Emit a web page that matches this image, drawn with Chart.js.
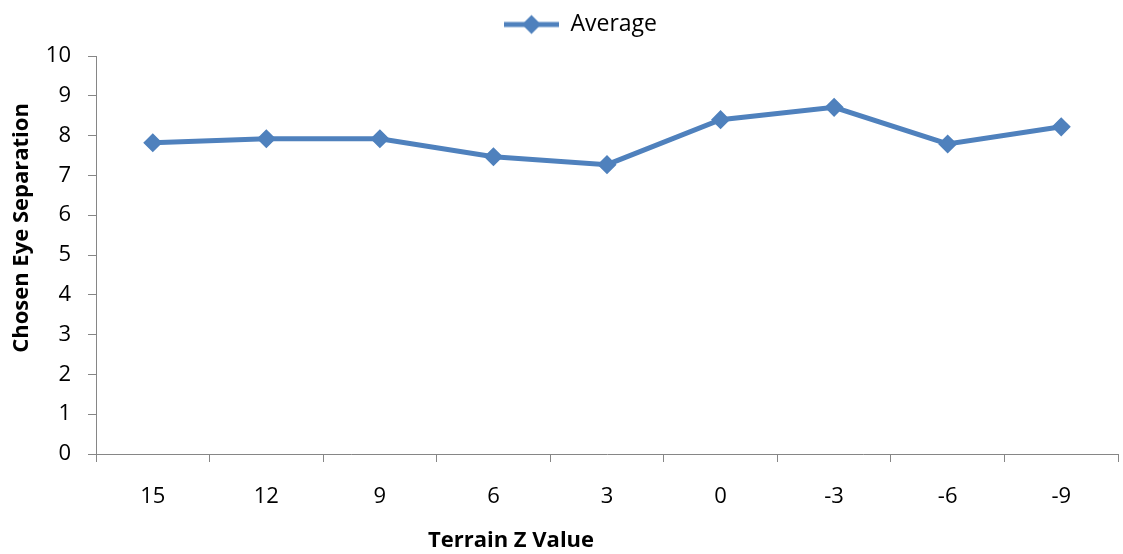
<!DOCTYPE html>
<html>
<head>
<meta charset="utf-8">
<script src="https://cdn.jsdelivr.net/npm/chart.js@4.4.1/dist/chart.umd.min.js"></script>
<style>
  html, body { margin: 0; padding: 0; background: #ffffff; }
  #wrap { width: 1123px; height: 554px; }
</style>
</head>
<body>
<div id="wrap"><canvas id="chart" width="1123" height="554"></canvas></div>
<script>
// Terrain Z value categories (left to right)
const categories = ['15', '12', '9', '6', '3', '0', '-3', '-6', '-9'];
// Average chosen eye separation for each terrain Z value
const averageValues = [7.82, 7.92, 7.92, 7.47, 7.27, 8.40, 8.71, 7.79, 8.22];
// Value axis ticks
const yTickValues = [0, 1, 2, 3, 4, 5, 6, 7, 8, 9, 10];

const seriesLabel = 'Average';
const xAxisTitle = 'Terrain Z Value';
const yAxisTitle = 'Chosen Eye Separation';

const BLUE = '#4F81BD';
const AXIS_GREY = '#868686';
const FONT = '"Open Sans", "Liberation Sans", sans-serif';

// Legend swatch: a short line with a diamond marker in the middle
function makeLegendSwatch() {
  const c = document.createElement('canvas');
  c.width = 68; c.height = 22;
  const g = c.getContext('2d');
  g.strokeStyle = BLUE;
  g.lineWidth = 5;
  g.beginPath();
  g.moveTo(7, 11); g.lineTo(62, 11);
  g.stroke();
  g.fillStyle = BLUE;
  g.beginPath();
  g.moveTo(34.5, 1.5); g.lineTo(44, 11); g.lineTo(34.5, 20.5); g.lineTo(25, 11);
  g.closePath();
  g.fill();
  return c;
}
const legendSwatch = makeLegendSwatch();

// Axis titles drawn as text at fixed spots around the plot
const axisTitles = {
  id: 'axisTitles',
  afterLayout(chart) {
    // nudge the legend to sit like the original heading row
    const lg = chart.legend;
    if (lg) {
      lg.left += 21; lg.right += 21;
      lg.top -= 10; lg.bottom -= 10;
    }
  },
  afterDraw(chart) {
    const ctx = chart.ctx;
    ctx.save();
    ctx.fillStyle = '#000000';
    ctx.font = 'bold 22px ' + FONT;
    ctx.textAlign = 'center';
    ctx.textBaseline = 'middle';
    ctx.fillText(xAxisTitle, 511, 541);
    ctx.translate(22, 228);
    ctx.rotate(-Math.PI / 2);
    ctx.fillText(yAxisTitle, 0, 0);
    ctx.restore();
  }
};

new Chart(document.getElementById('chart'), {
  type: 'line',
  data: {
    labels: categories,
    datasets: [{
      label: seriesLabel,
      data: averageValues,
      borderColor: BLUE,
      backgroundColor: BLUE,
      borderWidth: 5,
      tension: 0,
      pointStyle: 'rectRot',
      pointRadius: 8.5,
      pointBorderWidth: 1.5,
      pointBackgroundColor: BLUE,
      pointBorderColor: BLUE,
      fill: false
    }]
  },
  options: {
    responsive: false,
    animation: false,
    devicePixelRatio: 1,
    layout: { autoPadding: false, padding: { left: 0, right: 5, top: 0, bottom: 0 } },
    plugins: {
      legend: {
        display: true,
        position: 'top',
        labels: {
          usePointStyle: true,
          pointStyle: legendSwatch,
          pointStyleWidth: 56,
          color: '#000000',
          font: { family: FONT, size: 23 },
          padding: 23,
          generateLabels(chart) {
            return chart.data.datasets.map((ds, i) => ({
              text: ds.label,
              pointStyle: legendSwatch,
              fillStyle: BLUE,
              strokeStyle: BLUE,
              lineWidth: 0,
              datasetIndex: i,
              fontColor: '#000000'
            }));
          }
        }
      },
      tooltip: { enabled: false },
      title: { display: false }
    },
    scales: {
      x: {
        type: 'category',
        offset: true,
        grid: {
          display: true,
          offset: true,
          drawOnChartArea: false,
          drawTicks: true,
          tickLength: 8,
          color: AXIS_GREY,
          lineWidth: 1
        },
        border: { display: true, color: AXIS_GREY, width: 1 },
        ticks: {
          color: '#000000',
          font: { family: FONT, size: 22 },
          padding: 22,
          maxRotation: 0,
          autoSkip: false
        },
        afterFit(scale) {
          scale.height = 100;
          scale.paddingLeft = 0;
          scale.paddingRight = 0;
        }
      },
      y: {
        type: 'linear',
        min: 0,
        max: 10,
        afterBuildTicks(scale) {
          scale.ticks = yTickValues.map(v => ({ value: v }));
        },
        grid: {
          display: true,
          drawOnChartArea: false,
          drawTicks: true,
          tickLength: 8,
          color: AXIS_GREY,
          lineWidth: 1
        },
        border: { display: true, color: AXIS_GREY, width: 1 },
        ticks: {
          color: '#000000',
          font: { family: FONT, size: 22 },
          padding: 17
        },
        afterFit(scale) { scale.width = 96; }
      }
    }
  },
  plugins: [axisTitles]
});
</script>
</body>
</html>
